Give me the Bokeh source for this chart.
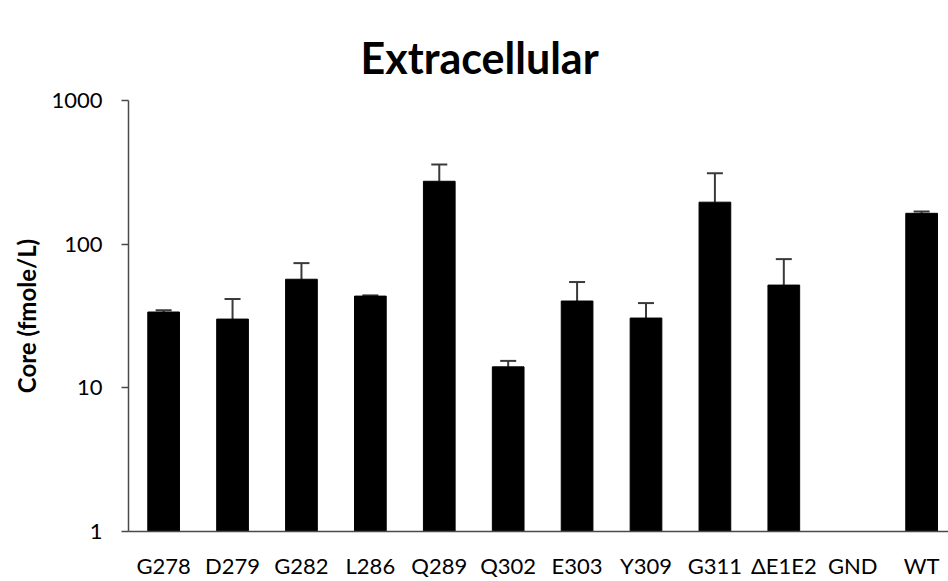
from bokeh.plotting import figure
from bokeh.models import ColumnDataSource, FixedTicker, PrintfTickFormatter, Whisker, Range1d
from bokeh.embed import file_html
from bokeh.resources import INLINE

categories = ["G278", "D279", "G282", "L286", "Q289", "Q302", "E303", "Y309", "G311", "ΔE1E2", "GND", "WT"]
core_values = [33.7, 30.1, 57.0, 43.5, 274, 14.0, 40.2, 30.6, 196, 51.9, 0, 164]
core_errors = [1.0, 11.4, 16.8, 0.5, 85, 1.4, 14.3, 8.3, 115, 26.8, 0, 5]
y_ticks = [1, 10, 100, 1000]
title_text = "Extracellular"

idx = list(range(len(categories)))
xs, tops, uppers = [], [], []
for i, v, e in zip(idx, core_values, core_errors):
    if v > 0:
        xs.append(i)
        tops.append(v)
        uppers.append(v + e)
src = ColumnDataSource(dict(x=xs, top=tops, upper=uppers))

FONT = "Lato"
p = figure(width=948, height=581,
           x_range=Range1d(-0.51, 11.39),
           y_axis_type="log", y_range=Range1d(1, 1000),
           output_backend="svg", toolbar_location=None,
           min_border_left=128, min_border_right=0, min_border_bottom=49, min_border_top=100)

p.title.text = title_text
p.title.align = "left"
p.title.offset = 232
p.title.vertical_align = "top"
p.title.text_font = FONT
p.title.text_font_size = "43px"
p.title.text_font_style = "bold"
p.title.text_color = "black"
p.title.standoff = 32

p.vbar(x="x", top="top", bottom=1, width=0.46, source=src, color="black")
wh = Whisker(base="x", lower="top", upper="upper", source=src, dimension="height",
             line_color="#3a3a3a", line_width=2, lower_head=None)
wh.upper_head.size = 16
wh.upper_head.line_color = "#3a3a3a"
wh.upper_head.line_width = 2
p.add_layout(wh)

p.grid.visible = False
p.outline_line_color = None
p.background_fill_color = "white"

ya = p.yaxis[0]
ya.ticker = FixedTicker(ticks=y_ticks, minor_ticks=[])
ya.formatter = PrintfTickFormatter(format="%d")
ya.axis_label = "Core (fmole/L)"
ya.axis_label_text_font = FONT
ya.axis_label_text_font_size = "24px"
ya.axis_label_text_font_style = "bold"
ya.axis_label_text_color = "black"
ya.axis_label_standoff = 7
ya.major_label_text_font = FONT
ya.major_label_text_font_size = "22px"
ya.major_label_text_color = "black"
ya.major_label_standoff = 19
ya.major_tick_out = 7
ya.major_tick_in = 0
ya.minor_tick_out = 0
ya.minor_tick_in = 0
ya.axis_line_color = "#4a4a4a"
ya.axis_line_width = 1.5
ya.major_tick_line_color = "#4a4a4a"
ya.major_tick_line_width = 1.5

xa = p.xaxis[0]
xa.ticker = FixedTicker(ticks=idx, minor_ticks=[])
xa.major_label_overrides = {i: c for i, c in zip(idx, categories)}
xa.major_label_text_font = FONT
xa.major_label_text_font_size = "22px"
xa.major_label_text_color = "black"
xa.major_label_standoff = 20
xa.major_tick_out = 0
xa.major_tick_in = 0
xa.minor_tick_out = 0
xa.minor_tick_in = 0
xa.axis_line_color = "#4a4a4a"
xa.axis_line_width = 1.5

open("out.html", "w").write(file_html(p, INLINE))
